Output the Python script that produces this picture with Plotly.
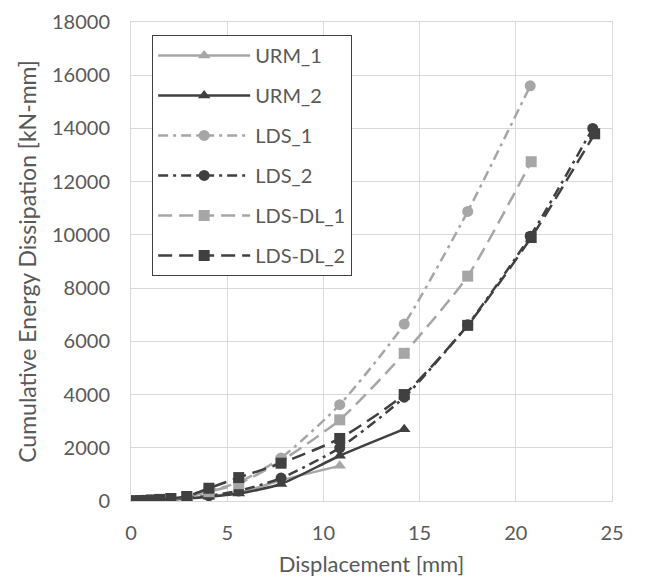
import plotly.graph_objects as go

# Displacement [mm]
x_urm1 = [0, 0.27, 0.54, 0.8, 1.06, 1.48, 2.07, 2.9, 4.05, 5.6, 7.8, 10.85]
y_urm1 = [0, 2, 5, 10, 18, 30, 55, 100, 180, 300, 780, 1320]

x_urm2 = [0, 0.27, 0.54, 0.8, 1.06, 1.48, 2.07, 2.9, 4.05, 5.6, 7.8, 10.85, 14.2]
y_urm2 = [0, 2, 5, 10, 18, 30, 55, 90, 160, 280, 640, 1700, 2700]

x_lds1 = [0, 0.27, 0.54, 0.8, 1.06, 1.48, 2.07, 2.9, 4.05, 5.6, 7.8, 10.85, 14.2, 17.5, 20.75]
y_lds1 = [0, 3, 7, 14, 25, 45, 80, 150, 380, 700, 1620, 3620, 6650, 10880, 15600]

x_lds2 = [0, 0.27, 0.54, 0.8, 1.06, 1.48, 2.07, 2.9, 4.05, 5.6, 7.8, 10.85, 14.2, 17.5, 20.75, 24.0]
y_lds2 = [0, 2, 5, 10, 18, 32, 60, 110, 200, 380, 860, 2000, 3900, 6620, 9950, 14000]

x_ldsdl1 = [0, 0.27, 0.54, 0.8, 1.06, 1.48, 2.07, 2.9, 4.05, 5.6, 7.8, 10.85, 14.2, 17.5, 20.8]
y_ldsdl1 = [0, 3, 7, 14, 25, 45, 80, 140, 350, 650, 1500, 3050, 5550, 8450, 12750]

x_ldsdl2 = [0, 0.27, 0.54, 0.8, 1.06, 1.48, 2.07, 2.9, 4.05, 5.6, 7.8, 10.85, 14.2, 17.5, 20.8, 24.1]
y_ldsdl2 = [0, 5, 12, 22, 38, 60, 95, 170, 480, 880, 1420, 2350, 4000, 6600, 9900, 13800]

x_ticks = [0, 5, 10, 15, 20, 25]
y_ticks = [0, 2000, 4000, 6000, 8000, 10000, 12000, 14000, 16000, 18000]

LIGHT = "#a6a6a6"
DARK = "#404040"
TXT = "#595959"

series = [
    ("URM_1", x_urm1, y_urm1, LIGHT, "solid", "triangle-up"),
    ("URM_2", x_urm2, y_urm2, DARK, "solid", "triangle-up"),
    ("LDS_1", x_lds1, y_lds1, LIGHT, "10px,5px,3px,5px", "circle"),
    ("LDS_2", x_lds2, y_lds2, DARK, "10px,5px,3px,5px", "circle"),
    ("LDS-DL_1", x_ldsdl1, y_ldsdl1, LIGHT, "14px,7px", "square"),
    ("LDS-DL_2", x_ldsdl2, y_ldsdl2, DARK, "14px,7px", "square"),
]

fig = go.Figure()
for name, xs, ys, col, dash, sym in series:
    fig.add_trace(go.Scatter(
        x=xs, y=ys, name=name, mode="lines+markers",
        line=dict(color=col, width=2.5, dash=dash, shape="spline", smoothing=0.6),
        marker=dict(symbol=sym, size=11, color=col),
        legendgroup=name,
    ))

fig.update_layout(
    width=659, height=577,
    margin=dict(l=131, r=47, t=22, b=76),
    paper_bgcolor="white", plot_bgcolor="white",
    font=dict(family="Lato, Carlito, Calibri, sans-serif", size=20, color=TXT),
    showlegend=True,
    legend=dict(
        x=0.044, y=0.973, xanchor="left", yanchor="top",
        bordercolor=DARK, borderwidth=1, bgcolor="white",
        font=dict(size=20, color=TXT),
        tracegroupgap=11, itemwidth=92,
    ),
    xaxis=dict(
        range=[0, 25], tickvals=x_ticks, ticktext=[str(v) for v in x_ticks],
        showgrid=True, gridcolor="#d9d9d9", gridwidth=1,
        showline=True, linecolor="#d9d9d9", mirror=True, zeroline=False,
        ticks="", ticklabelstandoff=14, automargin=False,
        title=dict(text="Displacement [mm]", font=dict(size=22, color=TXT), standoff=13),
    ),
    yaxis=dict(
        range=[0, 18000], tickvals=y_ticks, ticktext=[str(v) for v in y_ticks],
        showgrid=True, gridcolor="#d9d9d9", gridwidth=1,
        showline=True, linecolor="#d9d9d9", mirror=True, zeroline=False,
        ticks="", ticklabelstandoff=16, automargin=False,
        title=dict(text="Cumulative Energy Dissipation [kN-mm]", font=dict(size=23, color=TXT), standoff=8),
    ),
)

fig.write_html("out.html")
